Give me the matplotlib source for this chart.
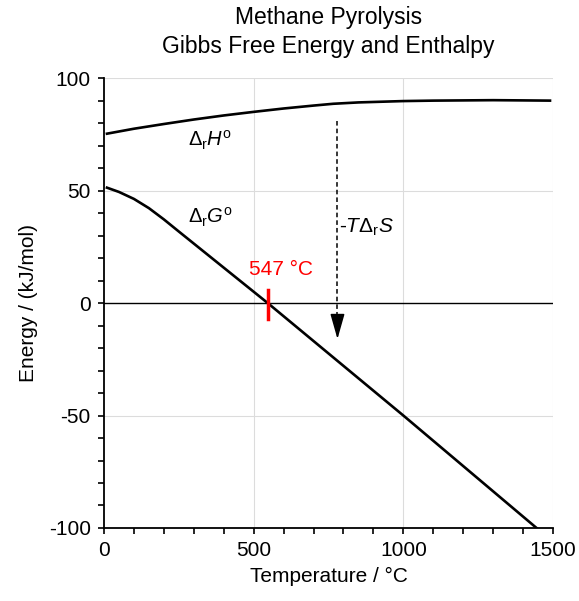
import numpy as np
import matplotlib
matplotlib.use("Agg")
import matplotlib.pyplot as plt
from matplotlib.ticker import MultipleLocator

plt.rcParams['font.family'] = ['Liberation Sans', 'DejaVu Sans']
plt.rcParams['mathtext.fontset'] = 'custom'
plt.rcParams['mathtext.rm'] = 'Liberation Sans'
plt.rcParams['mathtext.it'] = 'Liberation Sans:italic'
plt.rcParams['mathtext.bf'] = 'Liberation Sans:bold'
plt.rcParams['axes.unicode_minus'] = False

# data
temp_h = [10, 100, 200, 300, 400, 500, 600, 700, 766, 850, 1000, 1100, 1200, 1300, 1400, 1490]
enthalpy = [75.3, 77.5, 79.6, 81.6, 83.4, 85.0, 86.5, 87.8, 88.6, 89.2, 89.8, 90.0, 90.1, 90.2, 90.1, 90.0]

temp_g = [10, 50, 100, 150, 200, 250, 547, 1000, 1445]
gibbs = [51.3, 49.4, 46.3, 42.2, 37.2, 31.8, 0.0, -50.0, -100.0]

t_zero = 547
arrow_x = 780
arrow_top = 81
arrow_bottom = -16

fig = plt.figure(figsize=(5.79, 6.01), dpi=100)
ax = fig.add_axes([0.1796, 0.1215, 0.7755, 0.7485])

ax.set_xlim(0, 1500)
ax.set_ylim(-100, 100)
ax.xaxis.set_major_locator(MultipleLocator(500))
ax.xaxis.set_minor_locator(MultipleLocator(100))
ax.yaxis.set_major_locator(MultipleLocator(50))
ax.yaxis.set_minor_locator(MultipleLocator(10))

for v in [500, 1000, 1500]:
    ax.axvline(v, color='#dcdcdc', lw=0.8, zorder=0)
for v in [50, 100, -50]:
    ax.axhline(v, color='#dcdcdc', lw=0.8, zorder=0)
ax.axhline(0, color='black', lw=1.0, zorder=1)

ax.plot(temp_h, enthalpy, color='black', lw=1.9, zorder=3)
ax.plot(temp_g, gibbs, color='black', lw=1.9, zorder=3)

# zero crossing marker
ax.plot([t_zero, t_zero], [6, -7], color='red', lw=2.5, zorder=4)
ax.text(t_zero + 45, 10.5, '547 °C', color='red', fontsize=15, ha='center', va='bottom')

# -T dS arrow: dashed shaft + solid head
ax.plot([arrow_x, arrow_x], [arrow_top, arrow_bottom + 4], color='black', lw=1.1,
        ls=(0, (3, 2)), zorder=3)
ax.annotate('', xy=(arrow_x, arrow_bottom), xytext=(arrow_x, arrow_bottom + 8),
            arrowprops=dict(arrowstyle='-|>,head_length=0.6,head_width=0.17', color='black',
                            lw=1.1, mutation_scale=26, shrinkA=0, shrinkB=0))
ax.text(arrow_x + 5, 33.5, r'-$T$$\Delta_{\mathrm{r}}$$S$', fontsize=15, ha='left', va='center')

ax.text(282, 72.5, r'$\Delta_{\mathrm{r}}$$H^{\mathrm{o}}$', fontsize=14.5, ha='left', va='center')
ax.text(282, 38, r'$\Delta_{\mathrm{r}}$$G^{\mathrm{o}}$', fontsize=14.5, ha='left', va='center')

for s in ['top', 'right']:
    ax.spines[s].set_visible(False)
for s in ['left', 'bottom']:
    ax.spines[s].set_linewidth(1.3)
ax.tick_params(which='both', direction='out', length=4.5, width=1.2, labelsize=15)
ax.tick_params(which='major', pad=5)

ax.set_xlabel('Temperature / °C', fontsize=15, labelpad=5)
ax.set_ylabel('Energy / (kJ/mol)', fontsize=15, labelpad=8)
ax.set_title('Methane Pyrolysis\nGibbs Free Energy and Enthalpy', fontsize=16.5, pad=18,
             linespacing=1.35)

fig.savefig('out.png', dpi=100)
